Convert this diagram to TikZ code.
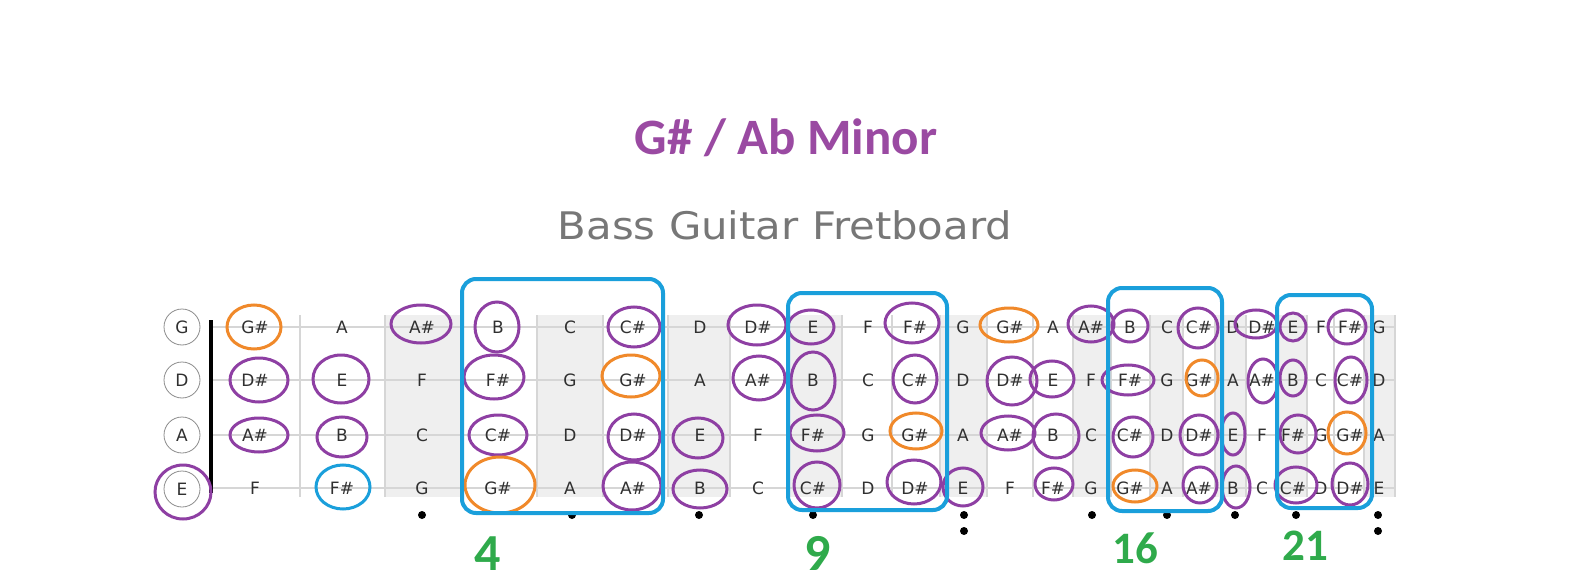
\documentclass[tikz,border=0pt]{standalone}
\usepackage{fontspec}
\newfontfamily\carl{Carlito}
\newfontfamily\dejavu{DejaVu Sans}
\newfontfamily\subfont[FakeStretch=1.1]{DejaVu Sans}
\definecolor{purp}{HTML}{8E3FA3}
\definecolor{titlep}{HTML}{9A4AA2}
\definecolor{orng}{HTML}{F0892A}
\definecolor{blu}{HTML}{1A9FDB}
\definecolor{grn}{HTML}{2FAA4B}
\definecolor{subg}{HTML}{777777}
\definecolor{notec}{HTML}{303030}
\definecolor{shadec}{HTML}{EFEFEF}
\definecolor{fretc}{HTML}{D6D6D6}
\newcommand\nn[1]{\ifcase#1\relax C\or C\#\or D\or D\#\or E\or F\or F\#\or G\or G\#\or A\or A\#\or B\fi}
\tikzset{
  pu/.style={draw=purp, line width=3pt},
  og/.style={draw=orng, line width=3pt},
  bc/.style={draw=blu, line width=3pt},
  bluebox/.style={draw=blu, line width=4pt, rounded corners=14pt},
  note/.style={font=\dejavu\fontsize{17}{17}\selectfont, text=notec, inner sep=0pt, anchor=base},
  strlabel/.style={circle, draw=black!45, line width=0.8pt, minimum size=36pt, inner sep=0pt, font=\dejavu\fontsize{17}{17}\selectfont, text=notec},
  fretnum/.style={font=\carl\bfseries, text=grn, anchor=base},
  inlaydot/.style={fill=black},
}
\begin{document}
\begin{tikzpicture}[x=1pt,y=-1pt]
\useasboundingbox (0,0) rectangle (1579,580);
% shaded columns (inlay frets)
\foreach \a/\b in {385/463, 537/603, 668/730, 787/842, 940/987, 1073/1111, 1150/1183, 1215/1246, 1277/1307, 1364/1395}
  \fill[shadec] (\a,315) rectangle (\b,497);
% fret lines
\foreach \a in {300,385,463,537,603,668,730,787,842,892,940,987,1033,1073,1111,1150,1183,1215,1246,1277,1307,1334,1364,1395}
  \draw[fretc, line width=1.5pt] (\a,315) -- (\a,497);
% strings
\foreach \y in {327,380,435,488}
  \draw[fretc, line width=1.5pt] (213,\y) -- (1395,\y);
% nut
\fill[black] (209,320) rectangle (213,493);
% string labels
\node[strlabel] (s-G) at (182,327) {G};
\node[strlabel] (s-D) at (182,380) {D};
\node[strlabel] (s-A) at (182,435) {A};
\node[strlabel] (s-E) at (182,489) {E};
% notes
\foreach \s/\o/\y in {G/7/327, D/2/380, A/9/435, E/4/488} {
  \foreach \x [count=\f] in {255,342,422,498,570,633,700,758,813,868,915,963,1010,1053,1091,1130,1167,1199,1233,1262,1293,1321,1350,1379} {
    \pgfmathtruncatemacro\k{mod(\o+\f,12)}
    \node[note] (n-\s-\f) at (\x,\y+6) {\nn{\k}};
  }
}
% inlay dots
\foreach \x in {422,572,699,813,1092,1167,1235,1296}
  \fill[inlaydot] (\x,515) circle (4);
\foreach \x in {964,1378} {
  \fill[inlaydot] (\x,515) circle (4);
  \fill[inlaydot] (\x,531) circle (4);
}
% circled notes
\draw[pu] (183,492) ellipse [x radius=28, y radius=27];
\draw[og] (254,327) ellipse [x radius=27, y radius=22];
\draw[pu] (259,380) ellipse [x radius=29, y radius=22];
\draw[pu] (259,435) ellipse [x radius=29, y radius=17];
\draw[pu] (341,379) ellipse [x radius=28, y radius=24];
\draw[pu] (342,437) ellipse [x radius=25, y radius=20];
\draw[bc] (343,487) ellipse [x radius=27, y radius=22];
\draw[pu] (421,324) ellipse [x radius=30, y radius=19];
\draw[pu] (497,327) ellipse [x radius=22, y radius=25];
\draw[pu] (494,377) ellipse [x radius=30, y radius=22];
\draw[pu] (498,435) ellipse [x radius=29, y radius=20];
\draw[og] (500,485) ellipse [x radius=35, y radius=28];
\draw[pu] (634,327) ellipse [x radius=26, y radius=20];
\draw[og] (631,376) ellipse [x radius=29, y radius=21];
\draw[pu] (634,437) ellipse [x radius=26, y radius=23];
\draw[pu] (632,486) ellipse [x radius=29, y radius=24];
\draw[pu] (698,438) ellipse [x radius=25, y radius=20];
\draw[pu] (700,489) ellipse [x radius=27, y radius=19];
\draw[pu] (757,325) ellipse [x radius=29, y radius=20];
\draw[pu] (759,378) ellipse [x radius=26, y radius=22];
\draw[pu] (811,327) ellipse [x radius=23, y radius=17];
\draw[pu] (813,381) ellipse [x radius=22, y radius=29];
\draw[pu] (817,433) ellipse [x radius=27, y radius=18];
\draw[pu] (817,485) ellipse [x radius=23, y radius=23];
\draw[pu] (912,323) ellipse [x radius=27, y radius=20];
\draw[pu] (915,379) ellipse [x radius=22, y radius=24];
\draw[og] (916,431) ellipse [x radius=26, y radius=18];
\draw[pu] (914,482) ellipse [x radius=27, y radius=22];
\draw[pu] (963,487) ellipse [x radius=20, y radius=19];
\draw[og] (1009,325) ellipse [x radius=29, y radius=17];
\draw[pu] (1012,381) ellipse [x radius=25, y radius=24];
\draw[pu] (1008,433) ellipse [x radius=27, y radius=17];
\draw[pu] (1052,379) ellipse [x radius=22, y radius=18];
\draw[pu] (1056,436) ellipse [x radius=23, y radius=22];
\draw[pu] (1054,484) ellipse [x radius=19, y radius=16];
\draw[pu] (1091,324) ellipse [x radius=23, y radius=18];
\draw[pu] (1130,326) ellipse [x radius=18, y radius=16];
\draw[pu] (1128,380) ellipse [x radius=26, y radius=15];
\draw[pu] (1133,437) ellipse [x radius=20, y radius=20];
\draw[og] (1135,486) ellipse [x radius=22, y radius=16];
\draw[pu] (1198,328) ellipse [x radius=20, y radius=20];
\draw[og] (1202,378) ellipse [x radius=16, y radius=18];
\draw[pu] (1199,435) ellipse [x radius=19, y radius=20];
\draw[pu] (1200,485) ellipse [x radius=17, y radius=18];
\draw[pu] (1233,434) ellipse [x radius=12, y radius=21];
\draw[pu] (1236,487) ellipse [x radius=14, y radius=21];
\draw[pu] (1256,324) ellipse [x radius=21, y radius=14];
\draw[pu] (1263,381) ellipse [x radius=15, y radius=22];
\draw[pu] (1293,327) ellipse [x radius=13, y radius=14];
\draw[pu] (1293,378) ellipse [x radius=13, y radius=18];
\draw[pu] (1298,434) ellipse [x radius=18, y radius=19];
\draw[pu] (1296,485) ellipse [x radius=21, y radius=18];
\draw[pu] (1347,327) ellipse [x radius=19, y radius=17];
\draw[pu] (1351,380) ellipse [x radius=16, y radius=23];
\draw[og] (1347,433) ellipse [x radius=19, y radius=21];
\draw[pu] (1350,484) ellipse [x radius=18, y radius=21];
% blue boxes
\draw[bluebox] (462,279) rectangle (663,513);
\draw[bluebox] (788,293) rectangle (947,510);
\draw[bluebox] (1108,288) rectangle (1222,511);
\draw[bluebox] (1277,295) rectangle (1372,508);
% fret numbers
\node[fretnum, font=\carl\bfseries\fontsize{52}{52}\selectfont] (num4) at (488,570) {4};
\node[fretnum, font=\carl\bfseries\fontsize{52}{52}\selectfont] (num9) at (818,570) {9};
\node[fretnum, font=\carl\bfseries\fontsize{45}{45}\selectfont] (num16) at (1135,563) {16};
\node[fretnum, font=\carl\bfseries\fontsize{45}{45}\selectfont] (num21) at (1305,560) {21};
% titles
\node[anchor=base, text=titlep, font=\carl\bfseries\fontsize{51}{51}\selectfont] (title) at (786,155) {G\# / Ab Minor};
\node[anchor=base, text=subg, font=\subfont\fontsize{38}{38}\selectfont] (subtitle) at (785,240) {Bass Guitar Fretboard};
\end{tikzpicture}
\end{document}
